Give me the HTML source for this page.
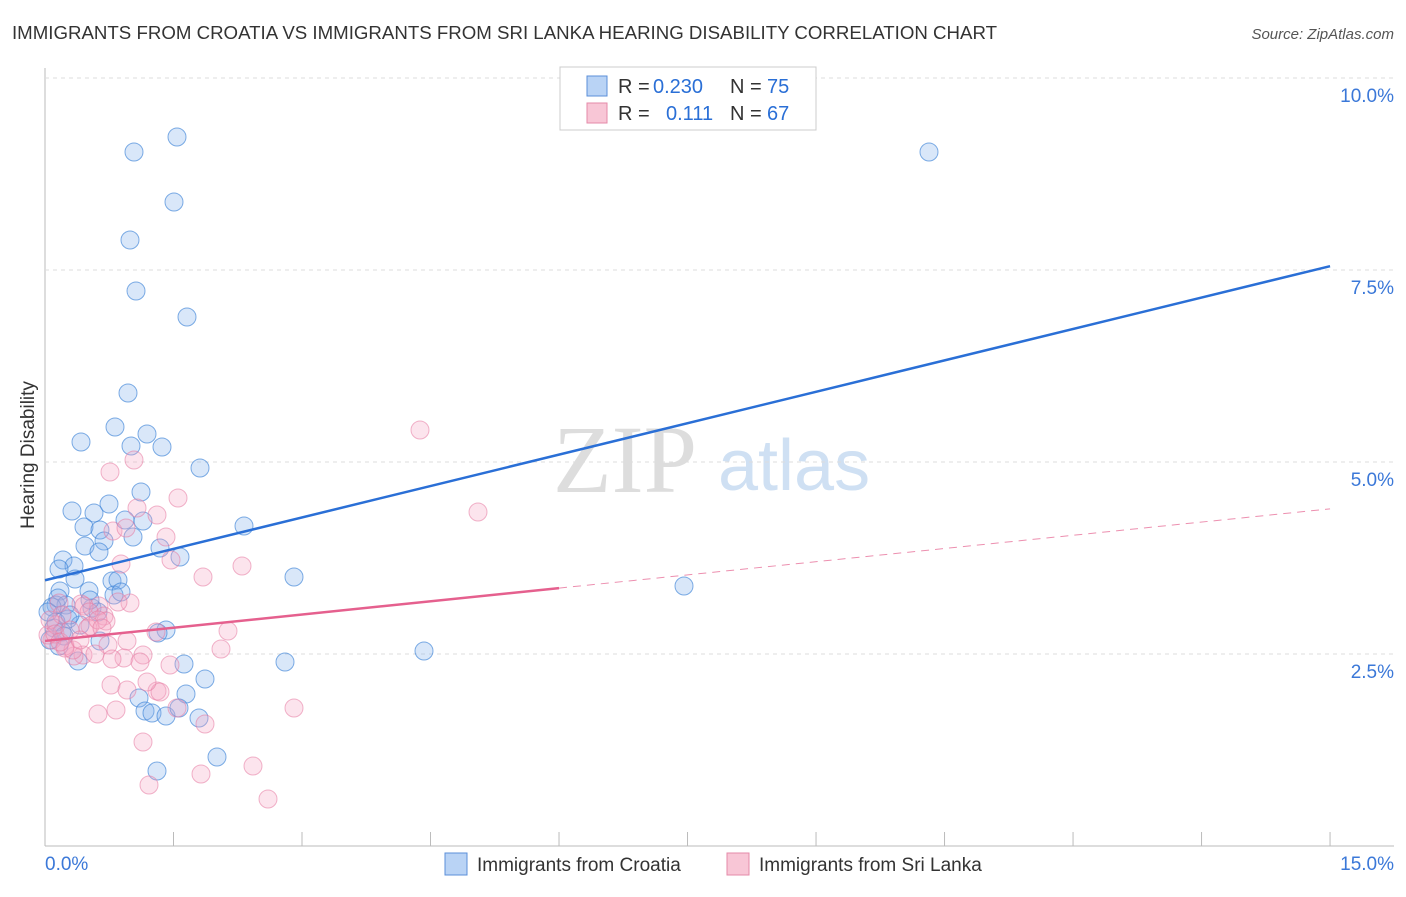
<!DOCTYPE html>
<html><head><meta charset="utf-8"><style>
body{margin:0;background:#fff;font-family:"Liberation Sans",sans-serif}
</style></head><body>
<svg id="c" width="1406" height="892" xmlns="http://www.w3.org/2000/svg" font-family="Liberation Sans, sans-serif">
<text x="12" y="39" font-size="18" fill="#333" textLength="985" lengthAdjust="spacingAndGlyphs">IMMIGRANTS FROM CROATIA VS IMMIGRANTS FROM SRI LANKA HEARING DISABILITY CORRELATION CHART</text>
<text x="1394" y="39" font-size="15" fill="#555" text-anchor="end" font-style="italic">Source: ZipAtlas.com</text>
<text transform="translate(34,455) rotate(-90)" font-size="19" fill="#333" text-anchor="middle">Hearing Disability</text>
<text x="553" y="492" font-size="96" fill="#ddd" font-family="Liberation Serif, serif">ZIP</text>
<text x="718" y="490" font-size="72" fill="#cfe0f3">atlas</text>
<g id="grid"></g><g id="pts"></g><g id="lines"></g>
<g>
<rect x="560" y="67" width="256" height="63" fill="#fff" stroke="#ccc"/>
<rect x="587" y="76" width="20" height="20" fill="#b9d3f5" stroke="#5b8fd9"/>
<rect x="587" y="103" width="20" height="20" fill="#f8c6d6" stroke="#e58aa8"/>
<text x="618" y="93" font-size="20" fill="#333">R =</text>
<text x="653" y="93" font-size="20" fill="#2a6fd6">0.230</text>
<text x="730" y="93" font-size="20" fill="#333">N =</text>
<text x="767" y="93" font-size="20" fill="#2a6fd6">75</text>
<text x="618" y="120" font-size="20" fill="#333">R =</text>
<text x="666" y="120" font-size="20" fill="#2a6fd6">0.111</text>
<text x="730" y="120" font-size="20" fill="#333">N =</text>
<text x="767" y="120" font-size="20" fill="#2a6fd6">67</text>
</g>
<g>
<rect x="445" y="853" width="22" height="22" fill="#b9d3f5" stroke="#5b8fd9"/>
<text x="477" y="871" font-size="19" fill="#333">Immigrants from Croatia</text>
<rect x="727" y="853" width="22" height="22" fill="#f8c6d6" stroke="#e58aa8"/>
<text x="759" y="871" font-size="19" fill="#333">Immigrants from Sri Lanka</text>
</g>
<text x="45" y="870" font-size="19" fill="#3b78d8">0.0%</text>
<text x="1394" y="870" font-size="19" fill="#3b78d8" text-anchor="end">15.0%</text>
</svg>
<script>
const yTicks=[2.5,5.0,7.5,10.0];
const blueX=[134,177,174,130,136,187,929,128,115,81,147,131,162,200,141,72,94,125,143,244,84,109,100,104,133,85,99,160,180,63,74,59,75,112,118,294,684,60,89,114,121,56,66,52,92,98,68,56,54,166,158,100,59,78,424,184,285,205,186,139,145,152,166,199,179,217,157,48,50,62,80,70,58,90,64].map(p=>(p-45)/85.67);
const blueY=[152,137,202,240,291,317,152,393,427,442,434,446,447,468,492,511,513,520,521,526,527,504,530,541,537,546,552,548,557,560,566,569,579,581,580,577,586,591,591,595,592,605,605,607,608,612,619,622,628,630,633,641,646,661,651,664,662,679,694,698,711,713,716,718,708,757,771,612,640,632,625,615,598,600,636].map(p=>(846-p)/76.8);
const pinkX=[420,134,110,178,137,157,478,166,113,126,242,203,171,121,59,81,99,104,130,118,106,84,89,90,156,228,127,108,83,95,74,65,88,98,52,48,56,62,50,73,124,143,221,111,127,157,160,147,98,116,177,205,294,143,201,253,149,268,65,55,60,102,140,112,170,70,80].map(p=>(p-45)/85.67);
const pinkY=[430,460,472,498,508,515,512,537,531,528,566,577,560,564,603,604,606,616,603,602,621,606,612,626,632,631,641,645,655,654,656,646,628,620,640,635,625,615,620,650,658,655,649,685,690,691,692,682,714,710,708,724,708,742,774,766,785,799,648,634,642,628,662,659,665,630,640].map(p=>(846-p)/76.8);
const blueFit=[3.46,7.55];const pinkFit=[2.67,4.39];
const X=v=>45+v*85.67, Y=v=>846-v*76.8, NS="http://www.w3.org/2000/svg";
const g=document.getElementById('grid');
function mk(tag,at,parent){const e=document.createElementNS(NS,tag);for(const k in at)e.setAttribute(k,at[k]);parent.appendChild(e);return e;}
let ax=mk('line',{x1:45,y1:68,x2:45,y2:846,stroke:'#bbb'},g);


let bx=mk('line',{x1:45,y1:846,x2:1394,y2:846,stroke:'#bbb'},g);


for(let i=0;i<=10;i++){let t=mk('line',{x1:X(i*1.5),x2:X(i*1.5),y1:832,y2:846,stroke:'#bbb'},g);

}
yTicks.forEach(v=>{let l=mk('line',{x1:45,x2:1394,y1:Y(v),y2:Y(v),stroke:'#ddd','stroke-dasharray':'4,4'},g);


let t=mk('text',{x:1394,y:Y(v)+24,'font-size':19,fill:'#3b78d8','text-anchor':'end'},g);t.textContent=v.toFixed(1)+'%';

});
const P=document.getElementById('pts');
blueX.forEach((x,i)=>{let c=mk('circle',{cx:X(x),cy:Y(blueY[i]),r:9,fill:'rgba(130,175,235,0.3)',stroke:'rgba(60,130,215,0.65)','stroke-width':1},P);

});
pinkX.forEach((x,i)=>{let c=mk('circle',{cx:X(x),cy:Y(pinkY[i]),r:9,fill:'rgba(245,165,195,0.3)',stroke:'rgba(230,120,160,0.55)','stroke-width':1},P);

});
const L=document.getElementById('lines');
let b=mk('line',{x1:X(0),y1:Y(blueFit[0]),x2:X(15),y2:Y(blueFit[1]),stroke:'#2a6fd6','stroke-width':2.5},L);


const pm=pinkFit[0]+(pinkFit[1]-pinkFit[0])*6/15;
let p1=mk('line',{x1:X(0),y1:Y(pinkFit[0]),x2:X(6),y2:Y(pm),stroke:'#e5608e','stroke-width':2.5},L);


let p2=mk('line',{x1:X(6),y1:Y(pm),x2:X(15),y2:Y(pinkFit[1]),stroke:'#e5608e','stroke-width':1,'stroke-dasharray':'8,6',opacity:0.7},L);


</script>
</body></html>
